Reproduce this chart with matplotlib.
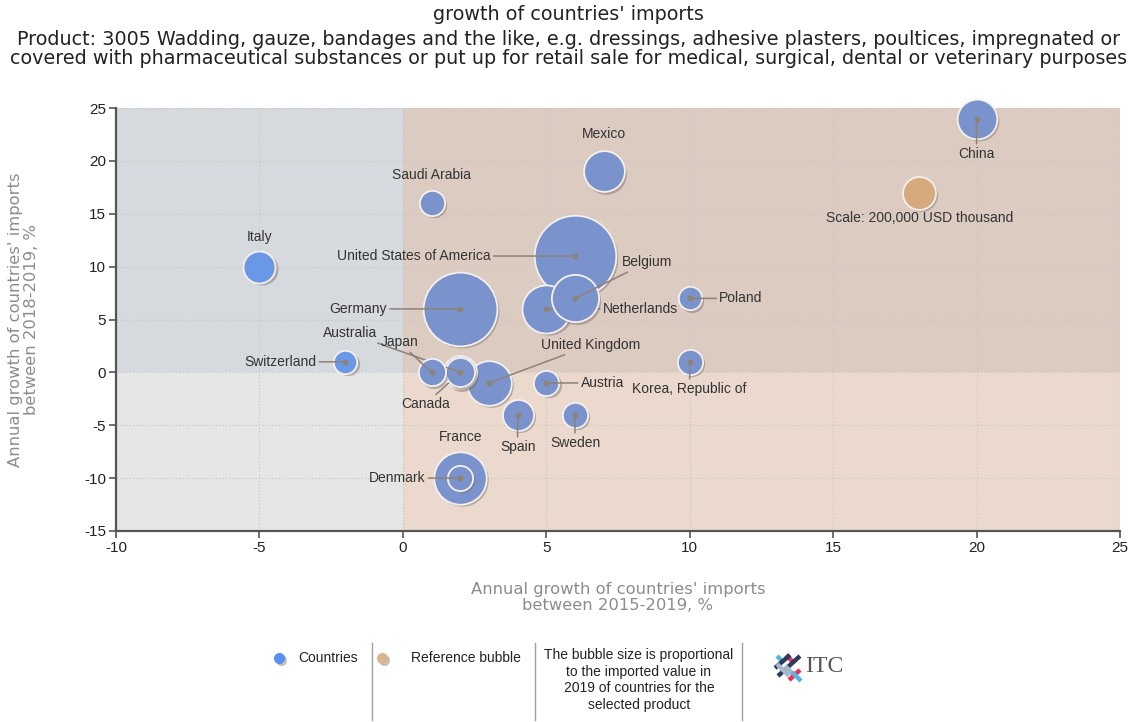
import numpy as np
import matplotlib.pyplot as plt
import matplotlib.transforms as mtransforms
from matplotlib.lines import Line2D

plt.rcParams['font.family'] = ['Liberation Sans', 'DejaVu Sans']
plt.rcParams['axes.unicode_minus'] = False

# Data: growth 2015-2019 (x), growth 2018-2019 (y), imported value 2019 (USD thousand)
countries = ['United States of America', 'Germany', 'France', 'Netherlands', 'Belgium',
             'United Kingdom', 'China', 'Mexico', 'Canada', 'Italy', 'Spain',
             'Australia', 'Japan', 'Saudi Arabia', 'Austria', 'Sweden', 'Denmark',
             'Korea, Republic of', 'Switzerland', 'Poland']
growth_5y = [6, 2, 2, 5, 6, 3, 20, 7, 2, -5, 4, 2, 1, 1, 5, 6, 2, 10, -2, 10]
growth_1y = [11, 6, -10, 6, 7, -1, 24, 19, 0, 10, -4, 0, 0, 16, -1, -4, -10, 1, 1, 7]
import_value = [1220000, 1000000, 505000, 425000, 410000, 366000, 290000, 305000,
                200000, 188000, 177000, 156000, 136000, 117000, 117000, 117000,
                117000, 117000, 100000, 100000]

ref_x, ref_y, ref_value = 18, 17, 200000
ref_label = 'Scale: 200,000 USD thousand'

# label offsets in pixels (dx, dy) and whether a leader line is drawn
label_pos = {
    'United States of America': (-161, 0, True),
    'Germany': (-102, 0, True),
    'France': (0, 41, False),
    'Netherlands': (94, 0, True),
    'Belgium': (72, 36, True),
    'United Kingdom': (102, 38, True),
    'China': (0, -35, True),
    'Mexico': (0, 37, False),
    'Canada': (-35, -32, True),
    'Italy': (0, 30, False),
    'Spain': (0, -32, True),
    'Australia': (-110, 39, True),
    'Japan': (-32, 30, True),
    'Saudi Arabia': (0, 28, False),
    'Austria': (56, 0, True),
    'Sweden': (0, -28, True),
    'Denmark': (-63, 0, True),
    'Korea, Republic of': (0, -27, True),
    'Switzerland': (-65, 0, True),
    'Poland': (51, 0, True),
}

DPI = 100
fig = plt.figure(figsize=(11.37, 7.22), dpi=DPI)
ax = fig.add_axes([116 / 1137, 1 - 531 / 722, (1120 - 116) / 1137, (531 - 108) / 722])

xmin, xmax, ymin, ymax = -10, 25, -15, 25
ax.set_xlim(xmin, xmax)
ax.set_ylim(ymin, ymax)

# quadrant backgrounds
yz = (0 - ymin) / (ymax - ymin)
ax.axvspan(xmin, 0, ymin=yz, ymax=1, color='#d6d9dd', zorder=0, lw=0)
ax.axvspan(0, xmax, ymin=yz, ymax=1, color='#dccbc1', zorder=0, lw=0)
ax.axvspan(xmin, 0, ymin=0, ymax=yz, color='#e6e6e6', zorder=0, lw=0)
ax.axvspan(0, xmax, ymin=0, ymax=yz, color='#ebd9cd', zorder=0, lw=0)

ax.set_xticks(np.arange(-10, 26, 5))
ax.set_yticks(np.arange(-15, 26, 5))
ax.grid(True, color='#c9c9c9', linestyle=':', linewidth=0.9, zorder=0.5)
ax.set_axisbelow(True)
for s in ['top', 'right']:
    ax.spines[s].set_visible(False)
for s in ['left', 'bottom']:
    ax.spines[s].set_color('#555555')
    ax.spines[s].set_linewidth(1.6)
ax.tick_params(direction='out', length=5, width=1.2, color='#555555',
               labelsize=11, labelcolor='#222222', pad=2)

ax.set_xlabel("Annual growth of countries' imports\nbetween 2015-2019, %",
              color='#8c8c8c', fontsize=11.8, family='DejaVu Sans', linespacing=1.05)
ax.set_ylabel("Annual growth of countries' imports\nbetween 2018-2019, %",
              color='#8c8c8c', fontsize=11.8, family='DejaVu Sans', linespacing=1.05)
ax.xaxis.set_label_coords(0.5, (531 - 582) / 423)
ax.yaxis.set_label_coords((39 - 116) / 1004, 0.5)

ref_r_px = 16.5  # radius of reference bubble in pixels


def size_pts(value):
    d_px = 2 * ref_r_px * np.sqrt(value / ref_value)
    return (d_px * 72 / DPI) ** 2


shadow = mtransforms.offset_copy(ax.transData, fig=fig, x=1.6, y=-1.6, units='points')
px = 72 / DPI

order = np.argsort(import_value, kind='stable')[::-1]
z = 3
for i in order:
    name = countries[i]
    x, y, v = growth_5y[i], growth_1y[i], import_value[i]
    col = '#6a97e6' if x < 0 else '#7b93cc'
    ax.scatter([x], [y], s=size_pts(v), color='#7a6e68', alpha=0.45, lw=0,
               transform=shadow, zorder=z, clip_on=False)
    ax.scatter([x], [y], s=size_pts(v), color=col, edgecolor='#f4f0ee', lw=1.3,
               zorder=z + 0.1, clip_on=False)
    dx, dy, leader = label_pos[name]
    if leader:
        ax.annotate(name, xy=(x, y), xytext=(dx * px, dy * px), textcoords='offset points',
                    ha='center', va='center', fontsize=10, color='#333333', zorder=z + 0.2,
                    arrowprops=dict(arrowstyle='-', color='#8c8278', lw=1.1,
                                    shrinkA=0, shrinkB=0))
        ax.plot([x], [y], 'o', ms=3.2, color='#8c8278', zorder=z + 0.3, clip_on=False)
    else:
        ax.annotate(name, xy=(x, y), xytext=(dx * px, dy * px), textcoords='offset points',
                    ha='center', va='center', fontsize=10, color='#333333', zorder=z + 0.2)
    z += 1

# reference bubble
ax.scatter([ref_x], [ref_y], s=size_pts(ref_value), color='#7a6e68', alpha=0.45, lw=0,
           transform=shadow, zorder=z)
ax.scatter([ref_x], [ref_y], s=size_pts(ref_value), color='#d6aa7d', edgecolor='#f4f0ee',
           lw=1.3, zorder=z + 0.1)
ax.annotate(ref_label, xy=(ref_x, ref_y), xytext=(0, -25 * px), textcoords='offset points',
            ha='center', va='center', fontsize=10, color='#333333', zorder=z + 0.2)

# titles
fig.text(0.5, 1 - 15 / 722, "growth of countries' imports", ha='center', va='center',
         fontsize=13.8, family='DejaVu Sans', color='#222222')
fig.text(0.5, 1 - 49 / 722,
         'Product: 3005 Wadding, gauze, bandages and the like, e.g. dressings, adhesive plasters, '
         'poultices, impregnated or\ncovered with pharmaceutical substances or put up for retail '
         'sale for medical, surgical, dental or veterinary purposes',
         ha='center', va='center', fontsize=13.8, family='DejaVu Sans', color='#222222',
         linespacing=1.05)

# legend area
W, H = 1137, 722


def fx(p):
    return p / W


def fy(p):
    return 1 - p / H


for sx in [372, 535, 742]:
    fig.add_artist(Line2D([fx(sx), fx(sx)], [fy(643), fy(720)], color='#a0a0a0', lw=1))

for cx, col, label, tx in [(279, '#5b8ff0', 'Countries', 298),
                           (382, '#d9b58c', 'Reference bubble', 411)]:
    fig.add_artist(Line2D([fx(cx + 1.5)], [fy(660)], marker='o', ms=7, color='#999999',
                          alpha=0.5, lw=0))
    fig.add_artist(Line2D([fx(cx)], [fy(658)], marker='o', ms=7, color=col, lw=0))
    fig.text(fx(tx), fy(658), label, ha='left', va='center', fontsize=10, color='#222222')

fig.text(fx(639), fy(680), 'The bubble size is proportional\nto the imported value in\n'
         '2019 of countries for the\nselected product', ha='center', va='center',
         fontsize=10, color='#222222', linespacing=1.25)

# ITC logo
logo_strokes = [
    ((777, 656), (783, 662), '#5ab4e0'),
    ((786, 655), (793, 662), '#e8325a'),
    ((775, 668), (790, 655), '#2b3d5c'),
    ((778, 676), (800, 656), '#2b3d5c'),
    ((785, 666), (796, 677), '#a8b8cc'),
    ((777, 664), (789, 676), '#a8b8cc'),
    ((789, 680), (800, 670), '#e8325a'),
    ((792, 672), (801, 681), '#5ab4e0'),
]
for (x0, y0), (x1, y1), c in logo_strokes:
    fig.add_artist(Line2D([fx(x0), fx(x1)], [fy(y0), fy(y1)], color=c, lw=3.2,
                          solid_capstyle='butt'))
fig.text(fx(805), fy(667), 'ITC', ha='left', va='center', fontsize=17,
         family='Liberation Serif', color='#555555')

fig.savefig('out.png', dpi=DPI)
